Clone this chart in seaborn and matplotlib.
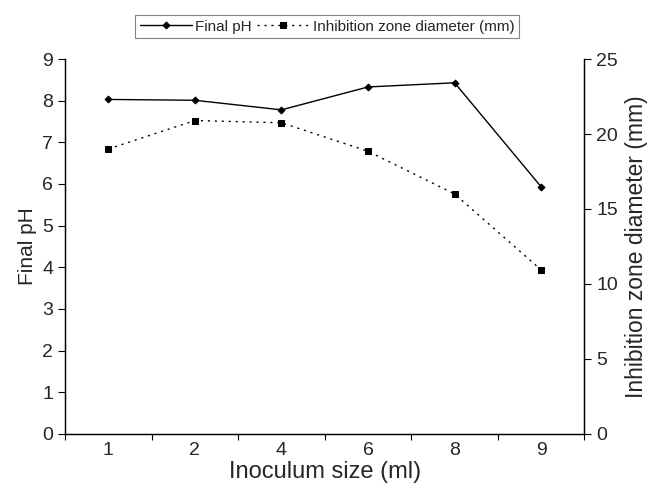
import pandas as pd
import matplotlib
matplotlib.use('Agg')
import matplotlib.pyplot as plt
import seaborn as sns
from matplotlib.ticker import FixedLocator

sns.set_theme(style='white')
plt.rcParams['font.family'] = ['Liberation Sans', 'DejaVu Sans']

inoculum = ['1', '2', '4', '6', '8', '9']
final_ph = [8.03, 8.01, 7.78, 8.33, 8.43, 5.93]
inhibition = [19.0, 20.9, 20.75, 18.85, 16.0, 10.93]

df = pd.DataFrame({'inoculum': inoculum, 'ph': final_ph, 'zone': inhibition})

fig, ax = plt.subplots(figsize=(6.48, 4.88), dpi=100)
fig.subplots_adjust(left=0.1003, right=0.902, bottom=0.111, top=0.879)
ax2 = ax.twinx()

sns.lineplot(data=df, x='inoculum', y='ph', ax=ax, color='black', lw=1.0,
             marker='D', markersize=3.5, markeredgecolor='black',
             label='Final pH', legend=False, sort=False)
sns.lineplot(data=df, x='inoculum', y='zone', ax=ax2, color='black', lw=1.0,
             linestyle=(0, (1.5, 3.5)), marker='s', markersize=5,
             markeredgecolor='black', label='Inhibition zone diameter (mm)',
             legend=False, sort=False)

ax.set_xlim(-0.5, len(inoculum) - 0.5)
ax.set_ylim(0, 9)
ax2.set_ylim(0, 25)
ax.set_yticks(range(0, 10))
ax2.set_yticks(range(0, 26, 5))

ax.xaxis.set_minor_locator(FixedLocator([i - 0.5 for i in range(len(inoculum) + 1)]))
ax.tick_params(axis='x', which='major', length=0, labelsize=14, pad=6)
ax.tick_params(axis='x', which='minor', length=4, width=0.8, direction='out',
               bottom=True, color='black')
ax.tick_params(axis='y', length=5, width=0.8, direction='out', left=True,
               labelsize=14, color='black')
ax2.tick_params(axis='y', length=5, width=0.8, direction='out', right=True,
                labelsize=14, color='black')

ax.set_xlabel('Inoculum size (ml)', fontsize=17, labelpad=1)
ax.set_ylabel('Final pH', fontsize=15, labelpad=4)
ax2.set_ylabel('Inhibition zone diameter (mm)', fontsize=16.5, labelpad=5)

for a in (ax, ax2):
    a.spines['top'].set_visible(False)
    for s in ('left', 'right', 'bottom'):
        a.spines[s].set_color('black')
        a.spines[s].set_linewidth(0.9)
    a.grid(False)

handles = ax.get_lines()[:1] + ax2.get_lines()[:1]
leg = fig.legend(handles, [h.get_label() for h in handles], loc='center',
                 bbox_to_anchor=(0.505, 0.945), ncol=2, fontsize=11,
                 frameon=True, fancybox=False, handlelength=3.4,
                 columnspacing=0.35, handletextpad=0.25, borderpad=0.3,
                 borderaxespad=0)
leg.get_frame().set_edgecolor('#666666')
leg.get_frame().set_linewidth(0.8)

plt.savefig('out.png', dpi=100)
